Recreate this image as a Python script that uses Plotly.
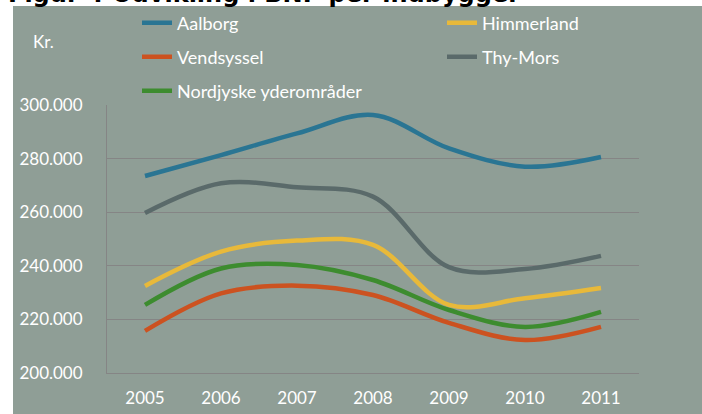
import plotly.graph_objects as go

years = ["2005", "2006", "2007", "2008", "2009", "2010", "2011"]
aalborg = [273500, 281300, 289400, 296300, 283800, 277000, 280600]
himmerland = [232500, 245300, 249400, 247800, 225400, 227900, 231700]
vendsyssel = [215700, 229700, 232600, 229100, 218700, 212300, 217200]
thymors = [259700, 270800, 269300, 265800, 239500, 238800, 243700]
nordjyske = [225400, 239000, 240300, 234700, 223500, 217200, 222800]
y_ticks = [200000, 220000, 240000, 260000, 280000, 300000]
y_tick_labels = ["200.000", "220.000", "240.000", "260.000", "280.000", "300.000"]

W, H = 702, 414
L, R, T, B = 107, 639, 105, 373
pw, ph = R - L, B - T


def px(x):
    return (x - L) / pw


def py(y):
    return (B - y) / ph


FONT = "Lato"
BG = "#8f9e96"
GRID = "#858585"

# name, values, colour, legend id, legend x (px), legend row y (px)
series = [
    ("Aalborg", aalborg, "#2a7593", "legend", 137, 23),
    ("Vendsyssel", vendsyssel, "#cc5220", "legend2", 137, 57),
    ("Nordjyske yderområder", nordjyske, "#3d8c2f", "legend3", 137, 91),
    ("Himmerland", himmerland, "#e8b93a", "legend4", 442, 23),
    ("Thy-Mors", thymors, "#5a6a6a", "legend5", 442, 57),
]

fig = go.Figure()
legends = {}
for name, vals, col, lg, lx, ly in series:
    fig.add_trace(go.Scatter(
        x=years, y=vals, name=name, mode="lines",
        line=dict(color=col, width=4.5, shape="spline", smoothing=1.0),
        legend=lg, hoverinfo="skip",
    ))
    legends[lg] = dict(x=px(lx), y=py(ly), xanchor="left", yanchor="middle",
                       orientation="h", bgcolor="rgba(0,0,0,0)",
                       font=dict(family=FONT, size=18, color="white"))

fig.update_layout(
    width=W, height=H,
    margin=dict(l=L, r=W - R, t=T, b=H - B, pad=0, autoexpand=False),
    paper_bgcolor="white",
    plot_bgcolor="rgba(0,0,0,0)",
    font=dict(family=FONT, size=17, color="white"),
    showlegend=True,
    **legends,
    xaxis=dict(
        type="category", range=[-0.5, 6.5], showgrid=False,
        showline=True, linecolor=GRID, linewidth=1,
        ticks="", ticklabelstandoff=10,
        tickfont=dict(family=FONT, size=17, color="white"),
        fixedrange=True,
    ),
    yaxis=dict(
        range=[200000, 300000], tickvals=y_ticks, ticktext=y_tick_labels,
        showgrid=True, gridcolor=GRID, gridwidth=1,
        showline=True, linecolor=GRID, linewidth=1,
        zeroline=False, ticks="", ticklabelstandoff=20,
        tickfont=dict(family=FONT, size=17, color="white"),
        fixedrange=True,
    ),
    shapes=[dict(type="rect", xref="paper", yref="paper",
                 x0=px(13), x1=px(720), y0=py(430), y1=py(6),
                 fillcolor=BG, line=dict(width=0), layer="below")],
    annotations=[
        dict(text="Figur 4 Udvikling i BNP per indbygger", xref="paper", yref="paper",
             x=px(6), y=py(10), xanchor="left", yanchor="bottom", showarrow=False,
             font=dict(family="DejaVu Sans", size=24, color="black", weight="bold")),
        dict(text="Kr.", xref="paper", yref="paper", x=px(31), y=py(41),
             xanchor="left", yanchor="middle", showarrow=False,
             font=dict(family=FONT, size=17, color="white")),
    ],
)

fig.write_html("out.html", config={"displayModeBar": False, "staticPlot": True},
               post_script="document.body.style.margin='0';document.body.style.overflow='hidden';")
